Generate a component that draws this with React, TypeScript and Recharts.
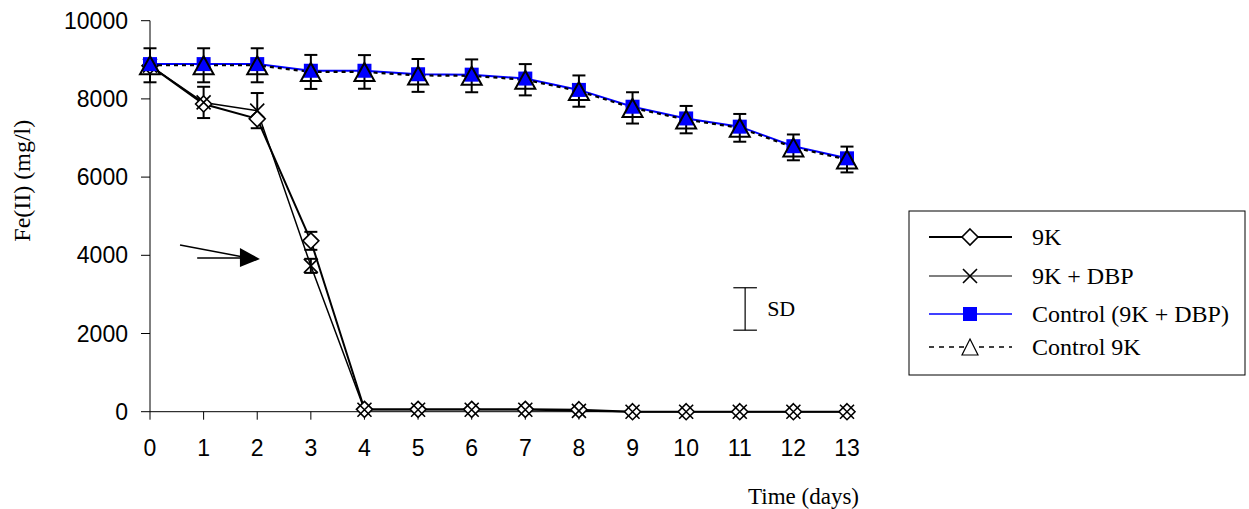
import {
  ErrorBar,
  Label,
  Line,
  LineChart,
  ReferenceDot,
  ReferenceLine,
  XAxis,
  YAxis,
} from 'recharts'

// Fe(II) in mg/l
const DAYS = [0, 1, 2, 3, 4, 5, 6, 7, 8, 9, 10, 11, 12, 13]
const FE_9K = [8850, 7870, 7490, 4370, 60, 60, 60, 60, 50, 0, 0, 0, 0, 0]
const FE_9K_DBP = [8850, 7910, 7700, 3730, 50, 50, 50, 50, 20, 0, 0, 0, 0, 0]
const FE_CTRL_DBP = [8890, 8890, 8890, 8720, 8720, 8630, 8620, 8520, 8230, 7800, 7500, 7290, 6790, 6480]
const FE_CTRL_9K = [8860, 8860, 8860, 8690, 8690, 8600, 8590, 8490, 8200, 7770, 7470, 7260, 6760, 6450]

// standard deviations (0 = no bar drawn)
const SD_9K = [0, 0, 0, 230, 0, 0, 0, 0, 0, 0, 0, 0, 0, 0]
const SD_9K_DBP = [0, 400, 450, 180, 0, 0, 0, 0, 0, 0, 0, 0, 0, 0]
const SD_CTRL_9K = [435, 435, 435, 435, 430, 420, 420, 400, 400, 400, 350, 355, 330, 330]

const Y_TICKS = [0, 2000, 4000, 6000, 8000, 10000]
const SERIES_NAMES = ['9K', '9K + DBP', 'Control (9K + DBP)', 'Control 9K']

// annotations, in data units
const ARROW_SHAFT = [{ x: 0.56, y: 4263 }, { x: 1.74, y: 3957 }]
const ARROW_SHAFT_2 = [{ x: 0.88, y: 3931 }, { x: 1.7, y: 3931 }]
const ARROW_TIP = { x: 2.05, y: 3905 }
const SD_MARK = { x: 11.1, low: 2085, high: 3170, capLeft: 10.88, capRight: 11.32 }

const rows = DAYS.map((day, i) => ({
  day,
  fe9k: FE_9K[i],
  fe9kDbp: FE_9K_DBP[i],
  ctrlDbp: FE_CTRL_DBP[i],
  ctrl9k: FE_CTRL_9K[i],
  sd9k: SD_9K[i],
  sd9kDbp: SD_9K_DBP[i],
  sdCtrl9k: SD_CTRL_9K[i],
}))

const SANS = '"Liberation Sans", Arial, sans-serif'
const SERIF = '"Liberation Serif", "Times New Roman", serif'

interface DotProps {
  cx?: number
  cy?: number
  index?: number
  fill?: string
}

function DiamondDot({ cx = 0, cy = 0, index, fill }: DotProps) {
  return (
    <polygon
      key={`d-${index}`}
      points={`${cx},${cy - 8} ${cx + 8},${cy} ${cx},${cy + 8} ${cx - 8},${cy}`}
      fill={fill === '#fff' ? '#fff' : 'none'}
      stroke="#000"
      strokeWidth={1.6}
    />
  )
}

function CrossDot({ cx = 0, cy = 0, index }: DotProps) {
  return (
    <path
      key={`x-${index}`}
      d={`M${cx - 7},${cy - 7}L${cx + 7},${cy + 7}M${cx - 7},${cy + 7}L${cx + 7},${cy - 7}`}
      stroke="#000"
      strokeWidth={1.6}
      fill="none"
    />
  )
}

function SquareDot({ cx = 0, cy = 0, index }: DotProps) {
  return <rect key={`s-${index}`} x={cx - 7} y={cy - 7} width={14} height={14} fill="#0000FF" />
}

function TriangleDot({ cx = 0, cy = 0, index }: DotProps) {
  return (
    <polygon
      key={`t-${index}`}
      points={`${cx},${cy - 9} ${cx + 10},${cy + 9} ${cx - 10},${cy + 9}`}
      fill="none"
      stroke="#000"
      strokeWidth={2}
    />
  )
}

function YTitle(props: any) {
  const vb = props.viewBox ?? { x: 0, y: 0 }
  const x = vb.x + 22
  const y = vb.y + 160
  return (
    <text
      x={x}
      y={y}
      transform={`rotate(-90 ${x} ${y})`}
      textAnchor="middle"
      dominantBaseline="central"
      fontFamily={SERIF}
      fontSize={24}
      fill="#000"
    >
      Fe(II) (mg/l)
    </text>
  )
}

function XTitle(props: any) {
  const vb = props.viewBox ?? { x: 0, y: 0, width: 0 }
  return (
    <text
      x={vb.x + vb.width + 12}
      y={vb.y + 85}
      textAnchor="end"
      dominantBaseline="central"
      fontFamily={SERIF}
      fontSize={23}
      fill="#000"
    >
      Time (days)
    </text>
  )
}

function LegendBox() {
  const rowsY = [27, 66, 104, 137]
  const mx = 62
  return (
    <svg
      width={338}
      height={166}
      style={{ position: 'absolute', left: 908, top: 210, overflow: 'visible' }}
    >
      <rect x={1} y={1} width={336} height={164} fill="#fff" stroke="#000" strokeWidth={1} />
      <line x1={21} x2={104} y1={rowsY[0]} y2={rowsY[0]} stroke="#000" strokeWidth={2} />
      <DiamondDot cx={mx} cy={rowsY[0]} fill="#fff" />
      <line x1={21} x2={104} y1={rowsY[1]} y2={rowsY[1]} stroke="#555" strokeWidth={1.5} />
      <CrossDot cx={mx} cy={rowsY[1]} />
      <line x1={21} x2={104} y1={rowsY[2]} y2={rowsY[2]} stroke="#0000FF" strokeWidth={1.5} />
      <SquareDot cx={mx} cy={rowsY[2]} />
      <line
        x1={21}
        x2={104}
        y1={rowsY[3]}
        y2={rowsY[3]}
        stroke="#000"
        strokeWidth={1.5}
        strokeDasharray="5 5"
      />
      <polygon
        points={`${mx},${rowsY[3] - 8} ${mx + 8},${rowsY[3] + 8} ${mx - 8},${rowsY[3] + 8}`}
        fill="#fff"
        stroke="#000"
        strokeWidth={1.2}
      />
      {SERIES_NAMES.map((name, i) => (
        <text
          key={name}
          x={124}
          y={rowsY[i]}
          dominantBaseline="central"
          fontFamily={SERIF}
          fontSize={24}
          fill="#000"
        >
          {name}
        </text>
      ))}
    </svg>
  )
}

export default function App() {
  return (
    <div
      style={{
        position: 'absolute',
        left: 0,
        top: 0,
        width: 1249,
        height: 509,
        background: '#fff',
      }}
    >
      <LineChart
        width={1249}
        height={509}
        data={rows}
        margin={{ top: 20.7, right: 402, bottom: 0, left: 0 }}
      >
        <XAxis
          type="number"
          dataKey="day"
          domain={[0, 13]}
          ticks={DAYS}
          interval={0}
          height={97.3}
          tickSize={8}
          tickMargin={20}
          tick={{ fill: '#000', fontSize: 23, fontFamily: SANS }}
          axisLine={{ stroke: '#000', strokeWidth: 1 }}
          tickLine={{ stroke: '#000', strokeWidth: 1 }}
        >
          <Label content={XTitle} />
        </XAxis>
        <YAxis
          type="number"
          domain={[0, 10000]}
          ticks={Y_TICKS}
          interval={0}
          width={150}
          tickSize={9}
          tickMargin={13}
          tick={{ fill: '#000', fontSize: 23, fontFamily: SANS }}
          axisLine={{ stroke: '#000', strokeWidth: 1 }}
          tickLine={{ stroke: '#000', strokeWidth: 1 }}
        >
          <Label content={YTitle} />
        </YAxis>

        {/* arrow annotation */}
        <ReferenceLine segment={ARROW_SHAFT} stroke="#000" strokeWidth={1.5} />
        <ReferenceLine segment={ARROW_SHAFT_2} stroke="#000" strokeWidth={1.5} />
        <ReferenceDot
          x={ARROW_TIP.x}
          y={ARROW_TIP.y}
          shape={(p: any) => (
            <polygon
              points={`${p.cx},${p.cy} ${p.cx - 20},${p.cy - 11} ${p.cx - 20},${p.cy + 8}`}
              fill="#000"
            />
          )}
        />

        {/* SD scale bar */}
        <ReferenceLine
          segment={[{ x: SD_MARK.x, y: SD_MARK.low }, { x: SD_MARK.x, y: SD_MARK.high }]}
          stroke="#000"
          strokeWidth={1.2}
        />
        <ReferenceLine
          segment={[{ x: SD_MARK.capLeft, y: SD_MARK.high }, { x: SD_MARK.capRight, y: SD_MARK.high }]}
          stroke="#000"
          strokeWidth={1.2}
        />
        <ReferenceLine
          segment={[{ x: SD_MARK.capLeft, y: SD_MARK.low }, { x: SD_MARK.capRight, y: SD_MARK.low }]}
          stroke="#000"
          strokeWidth={1.2}
        />
        <ReferenceDot
          x={SD_MARK.x}
          y={(SD_MARK.low + SD_MARK.high) / 2}
          shape={(p: any) => (
            <text
              x={p.cx + 22}
              y={p.cy}
              dominantBaseline="central"
              fontFamily={SERIF}
              fontSize={22}
              fill="#000"
            >
              SD
            </text>
          )}
        />

        <Line
          dataKey="fe9k"
          stroke="#000"
          strokeWidth={2}
          dot={DiamondDot}
          activeDot={false}
          isAnimationActive={false}
        >
          <ErrorBar dataKey="sd9k" width={6.5} stroke="#000" strokeWidth={2} direction="y" />
        </Line>
        <Line
          dataKey="fe9kDbp"
          stroke="#000"
          strokeWidth={1.5}
          dot={CrossDot}
          activeDot={false}
          isAnimationActive={false}
        >
          <ErrorBar dataKey="sd9kDbp" width={6.5} stroke="#000" strokeWidth={2} direction="y" />
        </Line>
        <Line
          dataKey="ctrlDbp"
          stroke="#0000FF"
          strokeWidth={2}
          dot={SquareDot}
          activeDot={false}
          isAnimationActive={false}
        />
        <Line
          dataKey="ctrl9k"
          stroke="#000"
          strokeWidth={2.2}
          strokeDasharray="4 4"
          dot={TriangleDot}
          activeDot={false}
          isAnimationActive={false}
        >
          <ErrorBar dataKey="sdCtrl9k" width={6.5} stroke="#000" strokeWidth={2} direction="y" />
        </Line>
      </LineChart>
      <LegendBox />
    </div>
  )
}
